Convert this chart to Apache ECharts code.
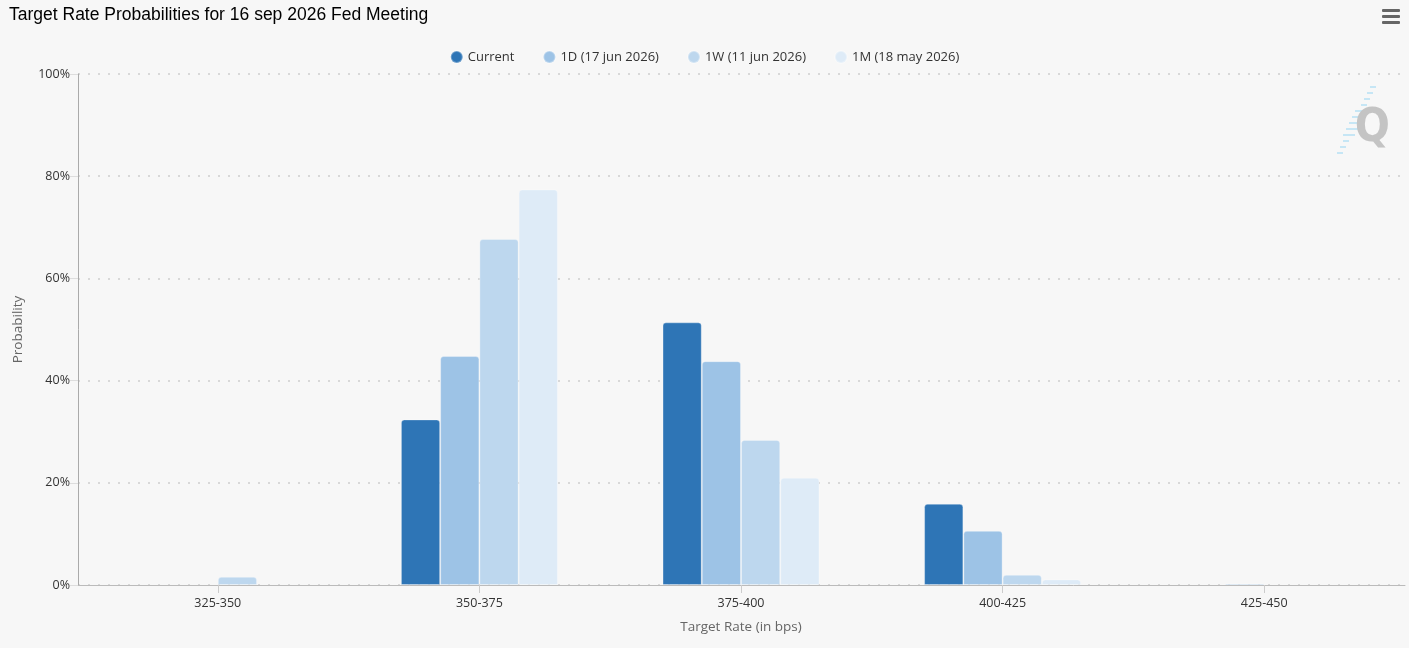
<!DOCTYPE html>
<html>
<head>
<meta charset="utf-8">
<script src="https://cdn.jsdelivr.net/npm/echarts@6/dist/echarts.min.js"></script>
<style>
  html, body { margin: 0; padding: 0; background: #f7f7f7; }
  #main { width: 1409px; height: 648px; }
</style>
</head>
<body>
<div id="main"></div>
<script>
var categories = ['325-350', '350-375', '375-400', '400-425', '425-450'];
var seriesNames = ['Current', '1D (17 jun 2026)', '1W (11 jun 2026)', '1M (18 may 2026)'];
var current = [null, 32.4, 51.4, 15.9, null];
var oneDay = [null, 44.8, 43.8, 10.6, 0.3];
var oneWeek = [1.6, 67.7, 28.4, 2.0, null];
var oneMonth = [null, 77.4, 21.0, 1.1, null];
var colors = ['#2e75b6', '#9dc3e6', '#bdd7ee', '#deebf7'];

var myChart = echarts.init(document.getElementById('main'));

function makeSeries(name, data, color) {
    return {
        name: name,
        type: 'bar',
        xAxisIndex: 1,
        yAxisIndex: 1,
        data: data,
        barGap: '0%',
        barCategoryGap: '40%',
        itemStyle: {
            color: color,
            borderColor: 'rgba(255,255,255,0.3)',
            borderWidth: 1,
            borderRadius: [3, 3, 0, 0]
        },
        animation: false
    };
}

// logo stripes (decoration only)
var stripes = [];
for (var i = 0; i < 12; i++) {
    var w = (i > 3 && i < 9) ? 12 : 6;
    stripes.push({
        type: 'rect',
        shape: { x: 34 - i * 3 - w / 2, y: i * 6, width: w, height: 2 },
        style: { fill: '#c6e6f5' }
    });
}

var option = {
    backgroundColor: '#f7f7f7',
    color: colors,
    title: {
        text: 'Target Rate Probabilities for 16 sep 2026 Fed Meeting',
        left: 4,
        top: 1,
        textStyle: {
            fontFamily: 'Liberation Sans, Arial',
            fontSize: 17.5,
            fontWeight: 'normal',
            color: '#000'
        }
    },
    legend: {
        data: seriesNames,
        top: 45,
        left: 'center',
        icon: 'circle',
        itemWidth: 12,
        itemHeight: 12,
        itemGap: 28,
        textStyle: {
            fontFamily: 'Open Sans',
            fontSize: 13,
            color: '#333'
        }
    },
    // outer grid carries the axis lines and grid lines, inner grid the bars
    grid: [
        { left: 78, right: 4, top: 74, bottom: 63, outerBoundsMode: 'none' },
        { left: 87, right: 14, top: 74, bottom: 63, outerBoundsMode: 'none' }
    ],
    xAxis: [
        {
            type: 'category',
            gridIndex: 0,
            data: [''],
            axisLine: { lineStyle: { color: '#bbb' } },
            axisTick: { show: false },
            axisLabel: { show: false }
        },
        {
            type: 'category',
            gridIndex: 1,
            data: categories,
            name: 'Target Rate (in bps)',
            nameLocation: 'middle',
            nameGap: 35,
            nameTextStyle: {
                fontFamily: 'Open Sans',
                fontSize: 13.5,
                color: '#666'
            },
            axisLine: { show: false },
            axisTick: { show: true, alignWithLabel: true, length: 8, lineStyle: { color: '#ccc' } },
            axisLabel: {
                fontFamily: 'Open Sans',
                fontSize: 12.5,
                color: '#333',
                margin: 12
            }
        }
    ],
    yAxis: [
        {
            type: 'value',
            gridIndex: 0,
            min: 0,
            max: 100,
            interval: 20,
            name: 'Probability',
            nameLocation: 'middle',
            nameGap: 53,
            nameRotate: 90,
            nameTextStyle: {
                fontFamily: 'Open Sans',
                fontSize: 13.5,
                color: '#666'
            },
            axisLine: { show: true, lineStyle: { color: '#aaa' } },
            axisTick: { show: true, length: 8, lineStyle: { color: '#ddd' } },
            axisLabel: {
                formatter: '{value}%',
                fontFamily: 'Open Sans',
                fontSize: 12.5,
                color: '#333',
                margin: 8
            },
            splitLine: {
                lineStyle: { color: '#d8d8d8', type: [2, 8], width: 2 }
            }
        },
        {
            type: 'value',
            gridIndex: 1,
            min: 0,
            max: 100,
            interval: 20,
            show: false
        }
    ],
    graphic: [
        {
            type: 'group',
            right: 9,
            top: 9,
            children: [
                { type: 'rect', shape: { x: 0, y: 0, width: 18, height: 3, r: 1 }, style: { fill: '#666' } },
                { type: 'rect', shape: { x: 0, y: 6, width: 18, height: 3, r: 1 }, style: { fill: '#666' } },
                { type: 'rect', shape: { x: 0, y: 12, width: 18, height: 3, r: 1 }, style: { fill: '#666' } }
            ]
        },
        {
            type: 'group',
            left: 1337,
            top: 86,
            children: stripes
        },
        {
            type: 'text',
            right: 19,
            top: 106,
            style: {
                text: 'Q',
                fontFamily: 'DejaVu Sans Condensed, DejaVu Sans',
                fontWeight: 'bold',
                fontSize: 46,
                fill: '#c4c4c4'
            }
        }
    ],
    series: [
        makeSeries(seriesNames[0], current, colors[0]),
        makeSeries(seriesNames[1], oneDay, colors[1]),
        makeSeries(seriesNames[2], oneWeek, colors[2]),
        makeSeries(seriesNames[3], oneMonth, colors[3])
    ]
};
myChart.setOption(option);
</script>
</body>
</html>
